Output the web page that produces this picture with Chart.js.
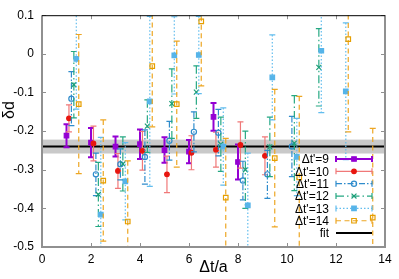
<!DOCTYPE html>
<html>
<head>
<meta charset="utf-8">
<script src="https://cdn.jsdelivr.net/npm/chart.js@4.4.1/dist/chart.umd.min.js"></script>
<style>
  html, body { margin: 0; padding: 0; background: #fff; }
</style>
</head>
<body>
<canvas id="chart" width="399" height="279"></canvas>
<script>
// time separations on the x axis
const dtValues = [1, 2, 3, 4, 5, 6, 7, 8, 9, 10, 11, 12, 13];
const seriesNames = ["Δt'=9", "Δt'=10", "Δt'=11", "Δt'=12", "Δt'=13", "Δt'=14"];
const xShift = [0, 0.1, 0.2, 0.3, 0.4, 0.5];

// delta d values and errors, one pair per series
const dd9 = [-0.212, -0.230, -0.240, -0.234, -0.249, -0.253, -0.163, -0.280];
const err9 = [0.030, 0.038, 0.026, 0.038, 0.033, 0.030, 0.036, 0.045];

const dd10 = [-0.167, -0.232, -0.303, -0.251, -0.312, -0.256, -0.248, -0.236, -0.264];
const err10 = [0.035, 0.045, 0.045, 0.050, 0.047, 0.044, 0.045, 0.060, 0.049];

const dd11 = [-0.116, -0.312, -0.286, -0.267, -0.225, -0.202, -0.204, -0.328, -0.312, -0.240];
const err11 = [0.070, 0.055, 0.040, 0.070, 0.050, 0.052, 0.060, 0.050, 0.062, 0.078];

const dd12 = [-0.080, -0.364, -0.285, -0.187, -0.129, -0.099, -0.234, -0.300, -0.241, -0.231, -0.035];
const err12 = [0.086, 0.083, 0.070, 0.068, 0.090, 0.068, 0.070, 0.100, 0.077, 0.123, 0.100];

const dd13 = [-0.013, -0.416, -0.330, -0.123, -0.004, -0.003, -0.240, -0.392, -0.061, -0.267, 0.008, -0.097];
const err13 = [0.130, 0.200, 0.100, 0.220, 0.100, 0.100, 0.100, 0.135, 0.110, 0.100, 0.160, 0.177];

const dd14 = [-0.130, -0.328, -0.434, -0.032, -0.130, 0.084, -0.372, -0.750, -0.270, -0.320, -0.750, 0.038, -0.424];
const err14 = [0.180, 0.157, 0.157, 0.157, 0.163, 0.167, 0.153, 0.150, 0.178, 0.210, 0.150, 0.240, 0.231];

// constant fit
const fitValue = [-0.24];
const fitError = [0.018];

const xTicks = [0, 2, 4, 6, 8, 10, 12, 14];
const yTicks = [0.1, 0, -0.1, -0.2, -0.3, -0.4, -0.5];

const allValues = [dd9, dd10, dd11, dd12, dd13, dd14];
const allErrors = [err9, err10, err11, err12, err13, err14];

// series looks
const styles = [
  { bar: "#9400d3", point: "#9400d3", shape: "rect", fill: true, dash: [], width: 2, radius: 3.2 },
  { bar: "#f07878", point: "#e8160f", shape: "circle", fill: true, dash: [], width: 1.2, radius: 2.3 },
  { bar: "#2f8ccc", point: "#2f8ccc", shape: "circle", fill: false, dash: [6, 2, 1.5, 2], width: 1.2, radius: 2.6 },
  { bar: "#25a882", point: "#1b9e77", shape: "crossRot", fill: false, dash: [8, 3, 1.5, 3], width: 1.2, radius: 3.5 },
  { bar: "#62bdee", point: "#56b4e9", shape: "rect", fill: true, dash: [1.5, 2], width: 1.2, radius: 3.2 },
  { bar: "#eda623", point: "#e69f00", shape: "rect", fill: false, dash: [5, 3.5], width: 1.2, radius: 3.2 },
];

const datasets = allValues.map((vals, k) => ({
  label: seriesNames[k],
  data: vals.map((v, i) => ({ x: dtValues[i] + xShift[k], y: v })),
  errors: allErrors[k],
  style: styles[k],
  showLine: false,
  order: 10 - k,
  pointStyle: styles[k].shape,
  pointRadius: styles[k].radius,
  pointBorderWidth: 1.2,
  borderColor: styles[k].point,
  backgroundColor: styles[k].fill ? styles[k].point : "rgba(0,0,0,0)",
}));

function clipArea(ctx, a) {
  ctx.beginPath();
  ctx.rect(a.left, a.top, a.right - a.left, a.bottom - a.top);
  ctx.clip();
}

// draws error bar with caps behind each series' points
const errorBars = {
  id: "errorBars",
  beforeDatasetDraw(chart, args) {
    const ds = chart.data.datasets[args.index];
    if (!ds.errors) return;
    const { ctx, chartArea, scales } = chart;
    ctx.save();
    clipArea(ctx, chartArea);
    ctx.strokeStyle = ds.style.bar;
    ctx.lineWidth = ds.style.width;
    ds.data.forEach((p, i) => {
      const x = scales.x.getPixelForValue(p.x);
      const y1 = scales.y.getPixelForValue(p.y + ds.errors[i]);
      const y2 = scales.y.getPixelForValue(p.y - ds.errors[i]);
      ctx.setLineDash(ds.style.dash);
      ctx.beginPath();
      ctx.moveTo(x, y1);
      ctx.lineTo(x, y2);
      ctx.stroke();
      ctx.setLineDash([]);
      ctx.beginPath();
      ctx.moveTo(x - 3, y1);
      ctx.lineTo(x + 3, y1);
      ctx.moveTo(x - 3, y2);
      ctx.lineTo(x + 3, y2);
      ctx.stroke();
    });
    ctx.restore();
  },
};

// gray band and black fit line
const fitBand = {
  id: "fitBand",
  beforeDatasetsDraw(chart) {
    const { ctx, chartArea, scales } = chart;
    const top = scales.y.getPixelForValue(fitValue[0] + fitError[0]);
    const bot = scales.y.getPixelForValue(fitValue[0] - fitError[0]);
    const mid = scales.y.getPixelForValue(fitValue[0]);
    ctx.save();
    ctx.fillStyle = "#c9c9c9";
    ctx.fillRect(chartArea.left, top, chartArea.right - chartArea.left, bot - top);
    ctx.strokeStyle = "#000";
    ctx.lineWidth = 2;
    ctx.beginPath();
    ctx.moveTo(chartArea.left, mid);
    ctx.lineTo(chartArea.right, mid);
    ctx.stroke();
    ctx.restore();
  },
};

function drawMarker(ctx, st, x, y) {
  Chart.helpers.drawPoint(ctx, {
    pointStyle: st.shape,
    radius: st.radius,
    borderWidth: 1.2,
  }, x, y);
}

// border, inward ticks, axis titles and key
const frame = {
  id: "frame",
  afterDraw(chart) {
    const { ctx, chartArea: a, scales } = chart;
    ctx.save();
    ctx.strokeStyle = "#8f8f8f";
    ctx.lineWidth = 1;
    ctx.beginPath();
    xTicks.forEach((t) => {
      const x = Math.round(scales.x.getPixelForValue(t)) + 0.5;
      ctx.moveTo(x, a.bottom);
      ctx.lineTo(x, a.bottom - 4);
      ctx.moveTo(x, a.top);
      ctx.lineTo(x, a.top + 4);
    });
    yTicks.forEach((t) => {
      const y = Math.round(scales.y.getPixelForValue(t)) + 0.5;
      ctx.moveTo(a.left, y);
      ctx.lineTo(a.left + 4, y);
      ctx.moveTo(a.right, y);
      ctx.lineTo(a.right - 4, y);
    });
    ctx.stroke();

    ctx.lineWidth = 2;
    ctx.strokeStyle = "#909090";
    ctx.beginPath();
    ctx.moveTo(a.left, a.top);
    ctx.lineTo(a.left, a.bottom);
    ctx.lineTo(a.right, a.bottom);
    ctx.lineTo(a.right, a.top);
    ctx.stroke();
    ctx.lineWidth = 1;
    ctx.strokeStyle = "#000";
    ctx.beginPath();
    ctx.moveTo(a.left, a.top + 0.5);
    ctx.lineTo(a.right, a.top + 0.5);
    ctx.stroke();

    // axis titles
    ctx.fillStyle = "#000";
    ctx.font = "16px 'Liberation Sans', Arial, sans-serif";
    ctx.textAlign = "center";
    ctx.textBaseline = "alphabetic";
    ctx.fillText("Δt/a", (a.left + a.right) / 2, 272);
    ctx.save();
    ctx.translate(14, 110);
    ctx.rotate(-Math.PI / 2);
    ctx.fillText("δd", 0, 0);
    ctx.restore();

    // key
    const rowY = 159;
    const rowStep = 12.35;
    ctx.font = "12px 'Liberation Sans', Arial, sans-serif";
    ctx.textAlign = "right";
    ctx.textBaseline = "middle";
    const x1 = 336, x2 = 372, xm = 354;
    styles.forEach((st, k) => {
      const y = rowY + k * rowStep;
      ctx.fillStyle = "#000";
      ctx.fillText(seriesNames[k], 329, y + 1);
      ctx.strokeStyle = st.bar;
      ctx.lineWidth = st.width;
      ctx.setLineDash(st.dash);
      ctx.beginPath();
      ctx.moveTo(x1, y);
      ctx.lineTo(x2, y);
      ctx.stroke();
      ctx.setLineDash([]);
      ctx.beginPath();
      ctx.moveTo(x1, y - 3);
      ctx.lineTo(x1, y + 3);
      ctx.moveTo(x2, y - 3);
      ctx.lineTo(x2, y + 3);
      ctx.stroke();
      ctx.strokeStyle = st.point;
      ctx.fillStyle = st.fill ? st.point : "rgba(0,0,0,0)";
      ctx.lineWidth = 1.2;
      drawMarker(ctx, st, xm, y);
    });
    const yf = rowY + 6 * rowStep;
    ctx.fillStyle = "#000";
    ctx.fillText("fit", 329, yf + 1);
    ctx.strokeStyle = "#000";
    ctx.lineWidth = 2;
    ctx.beginPath();
    ctx.moveTo(x1, yf);
    ctx.lineTo(x2, yf);
    ctx.stroke();
    ctx.restore();
  },
};

Chart.defaults.font.family = "'Liberation Sans', Arial, sans-serif";
Chart.defaults.font.size = 12;
Chart.defaults.color = "#000";

new Chart(document.getElementById("chart"), {
  type: "scatter",
  data: { datasets: datasets },
  options: {
    responsive: false,
    animation: false,
    devicePixelRatio: 1,
    layout: { padding: { top: 9, right: 14, left: 0, bottom: 0 } },
    plugins: {
      legend: { display: false },
      tooltip: { enabled: false },
    },
    scales: {
      x: {
        type: "linear",
        min: 0,
        max: 14,
        afterBuildTicks: (s) => { s.ticks = xTicks.map((v) => ({ value: v })); },
        afterFit: (s) => { s.height = 32; },
        grid: { display: false, drawTicks: false },
        border: { display: false },
        ticks: { padding: 5, maxRotation: 0, autoSkip: false, callback: (v) => String(v) },
      },
      y: {
        type: "linear",
        min: -0.5,
        max: 0.1,
        afterBuildTicks: (s) => { s.ticks = yTicks.map((v) => ({ value: v })); },
        afterFit: (s) => { s.width = 42; },
        grid: { display: false, drawTicks: false },
        border: { display: false },
        ticks: { padding: 8, autoSkip: false, callback: (v) => String(+v.toFixed(1)) },
      },
    },
  },
  plugins: [fitBand, errorBars, frame],
});
</script>
</body>
</html>
